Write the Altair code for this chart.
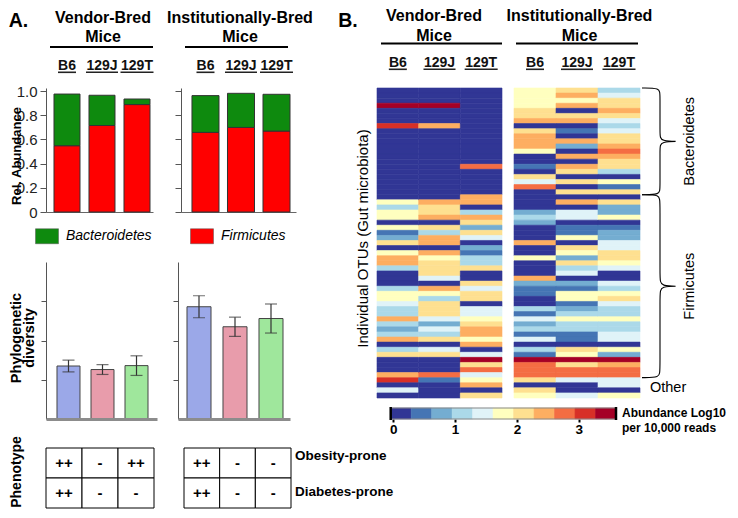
import altair as alt
import pandas as pd

FONT = "Liberation Sans"

# ---------------- Panel A data ----------------
STRAINS = ["B6", "129J", "129T"]
PHYLA = ["Bacteroidetes", "Firmicutes"]
PHYLA_COLORS = ["#0e8a0e", "#ff0000"]

FIRM_VENDOR = [0.548, 0.715, 0.888]
BACT_VENDOR = [0.427, 0.250, 0.046]
FIRM_INST = [0.658, 0.699, 0.669]
BACT_INST = [0.304, 0.282, 0.304]
REL_TICKS = [0, 0.2, 0.4, 0.6, 0.8, 1.0]

DIV_VENDOR = [1.35, 1.26, 1.36]
DIV_VENDOR_ERR = [0.15, 0.125, 0.25]
DIV_INST = [2.86, 2.35, 2.56]
DIV_INST_ERR = [0.28, 0.245, 0.37]
DIV_COLORS = ["#9ba8e8", "#e89cab", "#9fe79c"]

PHENOTYPES = ["Obesity-prone", "Diabetes-prone"]
OBESITY_VENDOR = ["++", "-", "++"]
DIABETES_VENDOR = ["++", "-", "-"]
OBESITY_INST = ["++", "-", "-"]
DIABETES_INST = ["++", "-", "-"]

# ---------------- Panel B data (colour class 0..10 per OTU row) ----------------
HM_VENDOR_B6 = [0, 0, 0, 10, 0, 0, 0, 9, 0, 0,
                0, 0, 0, 0, 0, 0, 0, 0, 0, 0,
                0, 0, 5, 3, 5, 5, 0, 5, 1, 2,
                6, 0, 5, 7, 7, 3, 0, 0, 0, 3,
                5, 5, 4, 3, 3, 7, 3, 2, 3, 7,
                0, 3, 6, 0, 0, 0, 7, 9, 0, 4,
                0]
HM_VENDOR_129J = [0, 0, 0, 10, 0, 0, 0, 7, 0, 0,
                  0, 0, 0, 0, 0, 0, 0, 0, 0, 0,
                  0, 0, 7, 6, 6, 7, 0, 6, 3, 7,
                  7, 0, 7, 5, 6, 6, 6, 4, 0, 7,
                  5, 3, 6, 6, 6, 4, 2, 4, 3, 6,
                  0, 4, 6, 0, 0, 0, 8, 1, 0, 0,
                  0]
HM_VENDOR_129T = [0, 0, 0, 0, 0, 0, 0, 0, 0, 0,
                  0, 0, 0, 0, 0, 8, 0, 0, 0, 0,
                  0, 7, 7, 0, 3, 7, 6, 2, 6, 4,
                  0, 2, 1, 3, 3, 6, 0, 0, 6, 4,
                  6, 6, 0, 4, 4, 5, 6, 7, 7, 5,
                  7, 0, 4, 10, 6, 8, 4, 5, 7, 0,
                  6]
HM_INST_B6 = [5, 5, 5, 5, 6, 6, 7, 0, 6, 7,
              7, 7, 5, 0, 0, 1, 0, 6, 4, 8,
              0, 0, 0, 0, 2, 3, 2, 0, 0, 0,
              7, 0, 0, 5, 0, 0, 0, 7, 2, 1,
              1, 0, 0, 3, 1, 4, 2, 3, 1, 4,
              0, 3, 1, 10, 8, 8, 8, 6, 0, 6,
              5]
HM_INST_129J = [6, 7, 5, 7, 0, 6, 7, 0, 1, 0,
                7, 2, 0, 7, 0, 7, 6, 0, 6, 0,
                6, 0, 7, 0, 4, 4, 0, 1, 1, 5,
                0, 6, 5, 2, 6, 3, 4, 0, 2, 1,
                5, 5, 1, 2, 3, 5, 3, 3, 1, 1,
                0, 6, 5, 10, 6, 8, 8, 4, 0, 0,
                4]
HM_INST_129T = [3, 4, 6, 6, 7, 6, 4, 3, 4, 6,
                6, 7, 8, 7, 6, 6, 3, 0, 5, 1,
                6, 0, 6, 2, 2, 5, 0, 1, 2, 2,
                4, 4, 6, 6, 5, 4, 0, 0, 4, 3,
                5, 6, 4, 3, 3, 5, 3, 3, 4, 4,
                0, 5, 2, 10, 7, 8, 8, 4, 4, 0,
                5]
OTU_GROUPS = ["Bacteroidetes", "Firmicutes", "Other"]
OTU_GROUP_SIZES = [21, 36, 4]

LEVEL_COLORS = ["#313695", "#4575b4", "#74add1", "#abd9e9", "#e0f3f8", "#ffffbf",
                "#fee090", "#fdae61", "#f46d43", "#d73027", "#a50026"]
LEVELS = list(range(len(LEVEL_COLORS)))
COLORBAR_MIN = -0.04
COLORBAR_MAX = 3.6
COLORBAR_TICKS = [0, 1, 2, 3]

# ---------------- layout (pixels, relative to each column's top-left) ----------------
A_H = 420                 # height of the panel-A columns
STACK_Y = (0, 124)        # stacked-bar plot band
DIV_Y = (174, 331)        # diversity plot band
TAB_Y = (360, 420)        # phenotype table band
TAB_LABEL_Y = (350, 422)  # band used to place the phenotype names
HEAT_H = 310
CB_Y = (320, 331)         # colour bar band
NO_FRAME = alt.ViewBackground(stroke="transparent", strokeWidth=0)


# ---------------- helpers ----------------
def one(text=""):
    return pd.DataFrame({"t": [text]})


def txt(text, x, y, size=16, weight="bold", angle=0, align="center",
        baseline="middle", style="normal"):
    return alt.Chart(one(text)).mark_text(
        font=FONT, fontSize=size, fontWeight=weight, fontStyle=style,
        angle=angle, align=align, baseline=baseline, color="black"
    ).encode(x=alt.value(x), y=alt.value(y), text="t:N")


def hline(x1, x2, y, width=2.0, color="black"):
    return alt.Chart(one()).mark_rule(color=color, strokeWidth=width).encode(
        x=alt.value(x1), x2=alt.value(x2), y=alt.value(y))


UNDERLINE_W = [18, 32, 33]


def strain_header(xenc, y_text, y_line):
    df = pd.DataFrame({"strain": STRAINS})
    layers = [alt.Chart(df).mark_text(font=FONT, fontSize=14, fontWeight="bold",
                                      color="#111").encode(
        x=xenc, y=alt.value(y_text), text="strain:N")]
    for s, w in zip(STRAINS, UNDERLINE_W):
        layers.append(alt.Chart(df).transform_filter(alt.datum.strain == s)
                      .mark_bar(width=w, color="#222").encode(
            x=xenc, y=alt.value(y_line), y2=alt.value(y_line + 1.6)))
    return layers


# ---------------- Panel A: stacked relative abundance ----------------
def stacked(firm, bact, xr, pi, po, align, first):
    df = pd.DataFrame({
        "strain": STRAINS * 2,
        "phylum": ["Firmicutes"] * 3 + ["Bacteroidetes"] * 3,
        "value": list(firm) + list(bact),
        "stack_order": [0, 0, 0, 1, 1, 1],
    })
    xscale = alt.Scale(domain=STRAINS, paddingInner=pi, paddingOuter=po, align=align,
                       range=list(xr))
    xenc = alt.X("strain:N", scale=xscale, sort=STRAINS,
                 axis=alt.Axis(orient="bottom", labels=False, ticks=False, title=None,
                               domainColor="#666", domainWidth=1,
                               offset=STACK_Y[1] - A_H))
    yaxis = alt.Axis(orient="left", offset=-xr[0], values=REL_TICKS, labels=first,
                     labelExpr="datum.value == 0 ? '0' : format(datum.value, '.1f')",
                     labelFont=FONT, labelFontSize=15, labelColor="#222",
                     labelPadding=3, tickSize=6, tickColor="#555",
                     domainColor="#555", grid=False, title=None)
    if first:
        legend = alt.Legend(orient="none", legendX=-11, legendY=136,
                            direction="horizontal", title=None,
                            symbolType="M-1,-0.652L1,-0.652L1,0.652L-1,0.652Z",
                            symbolSize=529, symbolStrokeColor="#555",
                            symbolStrokeWidth=0.5, labelFont=FONT,
                            labelFontSize=14, labelFontStyle="italic",
                            labelColor="black", labelOffset=7,
                            columnPadding=37, labelLimit=200)
    else:
        legend = None
    bars = alt.Chart(df).mark_bar(stroke="#333", strokeWidth=1).encode(
        x=xenc,
        y=alt.Y("value:Q", stack="zero",
                scale=alt.Scale(domain=[0, 1.025], nice=False,
                                range=[STACK_Y[1], STACK_Y[0]]),
                axis=yaxis),
        color=alt.Color("phylum:N", scale=alt.Scale(domain=PHYLA, range=PHYLA_COLORS),
                        legend=legend),
        order=alt.Order("stack_order:Q"),
    )
    return alt.layer(bars, *strain_header(xenc, -22, -16.5))


# ---------------- Panel A: phylogenetic diversity ----------------
def diversity(vals, errs, xr, pi, po, align):
    df = pd.DataFrame({"strain": STRAINS, "mean": vals, "err": errs})
    base = alt.Chart(df).transform_calculate(
        lo="datum.mean - datum.err", hi="datum.mean + datum.err")
    xscale = alt.Scale(domain=STRAINS, paddingInner=pi, paddingOuter=po, align=align,
                       range=list(xr))
    xenc = alt.X("strain:N", scale=xscale, sort=STRAINS,
                 axis=alt.Axis(orient="bottom", labels=False, ticks=False, title=None,
                               domainColor="#8c8c8c", domainWidth=3, zindex=1,
                               offset=DIV_Y[1] - A_H))
    yscale = alt.Scale(domain=[0, 4], nice=False, range=[DIV_Y[1], DIV_Y[0]])
    yaxis = alt.Axis(orient="left", offset=-xr[0], values=[1, 2, 3], labels=False,
                     tickSize=5, tickColor="#555", domainColor="#555", grid=False,
                     title=None)
    bars = base.mark_bar(stroke="#444", strokeWidth=1).encode(
        x=xenc, y=alt.Y("mean:Q", scale=yscale, axis=yaxis),
        color=alt.Color("strain:N", scale=alt.Scale(domain=STRAINS, range=DIV_COLORS),
                        legend=None))
    rule = base.mark_rule(color="#333", strokeWidth=1.2).encode(
        x=xenc, y=alt.Y("lo:Q", scale=yscale, axis=yaxis), y2="hi:Q")
    cap_lo = base.mark_tick(color="#333", thickness=1.2, size=12).encode(
        x=xenc, y=alt.Y("lo:Q", scale=yscale, axis=yaxis))
    cap_hi = base.mark_tick(color="#333", thickness=1.2, size=12).encode(
        x=xenc, y=alt.Y("hi:Q", scale=yscale, axis=yaxis))
    return alt.layer(bars, rule, cap_lo, cap_hi)


# ---------------- Panel A: phenotype table ----------------
def table(obesity, diabetes, xr):
    df = pd.DataFrame({
        "strain": STRAINS * 2,
        "phenotype": [PHENOTYPES[0]] * 3 + [PHENOTYPES[1]] * 3,
        "sign": list(obesity) + list(diabetes),
    })
    xenc = alt.X("strain:N", scale=alt.Scale(domain=STRAINS, paddingInner=0,
                                             paddingOuter=0, range=list(xr)),
                 sort=STRAINS, axis=None)
    yenc = alt.Y("phenotype:N", scale=alt.Scale(domain=PHENOTYPES, paddingInner=0,
                                                paddingOuter=0, range=list(TAB_Y)),
                 sort=PHENOTYPES, axis=None)
    cells = alt.Chart(df).mark_rect(fill="white", stroke="black", strokeWidth=1).encode(
        x=xenc, y=yenc)
    signs = alt.Chart(df).mark_text(font=FONT, fontSize=15, fontWeight="bold",
                                    color="black").encode(x=xenc, y=yenc, text="sign:N")
    return alt.layer(cells, signs)


def phenotype_names(x):
    df = pd.DataFrame({"phenotype": PHENOTYPES})
    return alt.Chart(df).mark_text(font=FONT, fontSize=13.5, fontWeight="bold",
                                   align="left", color="black").encode(
        x=alt.value(x),
        y=alt.Y("phenotype:N", scale=alt.Scale(domain=PHENOTYPES, paddingInner=0,
                                               paddingOuter=0, range=list(TAB_LABEL_Y)),
                sort=PHENOTYPES, axis=None),
        text="phenotype:N")


def column_a(first):
    if first:
        chart_w = 135
        parts = [
            stacked(FIRM_VENDOR, BACT_VENDOR, (0, 107), 0.257, 0.157, 0.727, True),
            diversity(DIV_VENDOR, DIV_VENDOR_ERR, (0, 111), 0.324, 0.294, 0.55),
            table(OBESITY_VENDOR, DIABETES_VENDOR, (0, 108)),
            txt("A.", -27.5, -67, size=19.5),
            txt("Vendor-Bred", 57, -70.5), txt("Mice", 57, -51.5),
            hline(4, 107, -41),
            txt("Rel. Abundance", -29, 68, size=13, angle=270),
            txt("Phylogenetic", -29, 250, size=14.5, angle=270),
            txt("diversity", -16, 250, size=14.5, angle=270),
            txt("Phenotype", -29, 384, size=14, angle=270),
        ]
    else:
        chart_w = 196
        parts = [
            stacked(FIRM_INST, BACT_INST, (0, 115), 0.239, 0.239, 0.647, False),
            diversity(DIV_INST, DIV_INST_ERR, (-3, 109), 0.333, 0.222, 0.5625),
            table(OBESITY_INST, DIABETES_INST, (3, 110)),
            phenotype_names(114),
            txt("Institutionally-Bred", 59, -70.5), txt("Mice", 59, -51.5),
            hline(4, 107, -41),
        ]
    return (alt.layer(*parts)
            .resolve_scale(x="independent", y="independent", color="independent")
            .properties(width=chart_w, height=A_H, view=NO_FRAME))


# ---------------- Panel B: heatmap ----------------
N_ROWS = len(HM_VENDOR_B6)
YSCALE = alt.Scale(domain=[0, N_ROWS], range=[0, HEAT_H], nice=False, zero=False)
COLOR_SCALE = alt.Scale(domain=LEVELS, range=LEVEL_COLORS)


def heat_df(cols):
    rows = []
    for name, levels in zip(STRAINS, cols):
        for k, lv in enumerate(levels):
            rows.append({"strain": name, "row": k, "row_end": k + 1, "level": lv})
    return pd.DataFrame(rows)


def heat_core(cols, content_w):
    xenc = alt.X("strain:N", scale=alt.Scale(type="band", domain=STRAINS,
                                             paddingInner=0, paddingOuter=0,
                                             range=[0, content_w]),
                 sort=STRAINS, axis=None)
    rects = alt.Chart(heat_df(cols)).mark_rect(strokeWidth=0.6).encode(
        x=xenc,
        y=alt.Y("row:Q", scale=YSCALE, axis=None), y2="row_end:Q",
        color=alt.Color("level:O", scale=COLOR_SCALE, legend=None),
        stroke=alt.Stroke("level:O", scale=COLOR_SCALE, legend=None))
    return alt.layer(rects, *strain_header(xenc, -25, -19.5))


def colorbar(x0, x1):
    span = COLORBAR_MAX - COLORBAR_MIN
    xscale = alt.Scale(domain=[COLORBAR_MIN, COLORBAR_MAX], range=[x0, x1],
                       nice=False, zero=False)
    xaxis = alt.Axis(orient="bottom", values=COLORBAR_TICKS,
                     format="d", domain=False, grid=False, title=None, tickSize=3,
                     tickWidth=2, tickColor="black", labelFont=FONT,
                     labelFontSize=13.5, labelFontWeight="bold", labelColor="black",
                     labelPadding=0)
    n = len(LEVEL_COLORS)
    edges = [COLORBAR_MIN + i * span / n for i in range(n + 1)]
    cbdf = pd.DataFrame({"lo": edges[:-1], "hi": edges[1:], "level": LEVELS})
    bins = alt.Chart(cbdf).mark_rect(strokeWidth=0.6).encode(
        x=alt.X("lo:Q", scale=xscale, axis=xaxis), x2="hi:Q",
        y=alt.value(CB_Y[0]), y2=alt.value(CB_Y[1]),
        color=alt.Color("level:O", scale=COLOR_SCALE, legend=None),
        stroke=alt.Stroke("level:O", scale=COLOR_SCALE, legend=None))
    outline = alt.Chart(pd.DataFrame({"lo": [COLORBAR_MIN], "hi": [COLORBAR_MAX]})).mark_rect(
        fillOpacity=0, stroke="#888", strokeWidth=1).encode(
        x=alt.X("lo:Q", scale=xscale, axis=xaxis), x2="hi:Q",
        y=alt.value(CB_Y[0]), y2=alt.value(CB_Y[1]))
    caps = alt.Chart(pd.DataFrame({"v": [COLORBAR_MIN, COLORBAR_MAX]})).mark_rule(
        color="black", strokeWidth=2.5).encode(
        x=alt.X("v:Q", scale=xscale, axis=xaxis),
        y=alt.value(CB_Y[0] - 1), y2=alt.value(CB_Y[1] + 1))
    return alt.layer(bins, outline, caps)


def column_b_left():
    content_w, chart_w = 125, 137
    return (alt.layer(
        heat_core([HM_VENDOR_B6, HM_VENDOR_129J, HM_VENDOR_129T], content_w),
        colorbar(13.7, 239),
        txt("B.", -29, -67, size=19.5),
        txt("Vendor-Bred", 57, -72), txt("Mice", 57, -52.5),
        hline(4, 125, -44.5),
        txt("Individual OTUs (Gut microbiota)", -14, 150.5, size=15,
            weight="normal", angle=270),
        txt("Abundance Log10", 245, CB_Y[0] + 5.3, size=12, align="left"),
        txt("per 10,000 reads", 245, CB_Y[0] + 20.3, size=12, align="left"),
    ).resolve_scale(x="independent")
     .properties(width=chart_w, height=CB_Y[1], view=NO_FRAME))


def column_b_right():
    content_w = 126
    starts, s = [], 0
    for n in OTU_GROUP_SIZES:
        starts.append(s)
        s += n
    ends = [a + n for a, n in zip(starts, OTU_GROUP_SIZES)]
    mids = [(a + b) / 2 for a, b in zip(starts, ends)]
    brace_rows = []
    r = 1.3
    for g in range(2):
        a, b, m = starts[g], ends[g], mids[g]
        pts = [(0, a), (0.5, a), (0.5, a + r), (0.5, m - r), (0.5, m), (1.15, m),
               (0.5, m), (0.5, m + r), (0.5, b - r), (0.5, b), (0, b)]
        for i, (bx, by) in enumerate(pts):
            brace_rows.append({"group": OTU_GROUPS[g], "i": i, "bx": bx, "by": by})
    braces = alt.Chart(pd.DataFrame(brace_rows)).mark_line(
        color="black", strokeWidth=1.1, interpolate="basis").encode(
        x=alt.X("bx:Q", scale=alt.Scale(domain=[0, 1],
                                        range=[content_w + 2, content_w + 38]),
                axis=None),
        y=alt.Y("by:Q", scale=YSCALE, axis=None),
        detail="group:N", order="i:Q")
    gdf = pd.DataFrame({"group": OTU_GROUPS, "mid": mids})
    glabels = alt.Chart(gdf).transform_filter(alt.datum.group != "Other").mark_text(
        font=FONT, fontSize=14.5, angle=270, color="black").encode(
        x=alt.value(content_w + 50), y=alt.Y("mid:Q", scale=YSCALE, axis=None),
        text="group:N")
    other = alt.Chart(gdf).transform_filter(alt.datum.group == "Other").mark_text(
        font=FONT, fontSize=14.5, align="left", color="black").encode(
        x=alt.value(content_w + 10), y=alt.Y("mid:Q", scale=YSCALE, axis=None),
        text="group:N")
    return (alt.layer(
        heat_core([HM_INST_B6, HM_INST_129J, HM_INST_129T], content_w),
        braces, glabels, other,
        txt("Institutionally-Bred", 65.5, -72), txt("Mice", 65.5, -52.5),
        hline(2, 124, -44.5),
    ).resolve_scale(x="independent")
     .properties(width=content_w, height=HEAT_H, view=NO_FRAME))


# ---------------- assemble ----------------
chart = (alt.hconcat(column_a(True), column_a(False), column_b_left(), column_b_right(),
                     spacing=0, bounds="flush")
         .resolve_scale(color="independent")
         .properties(padding=0)
         .configure_view(stroke="transparent", strokeWidth=0)
         .configure(font=FONT))

chart.save("out.html", embed_options={"renderer": "svg", "actions": False})
